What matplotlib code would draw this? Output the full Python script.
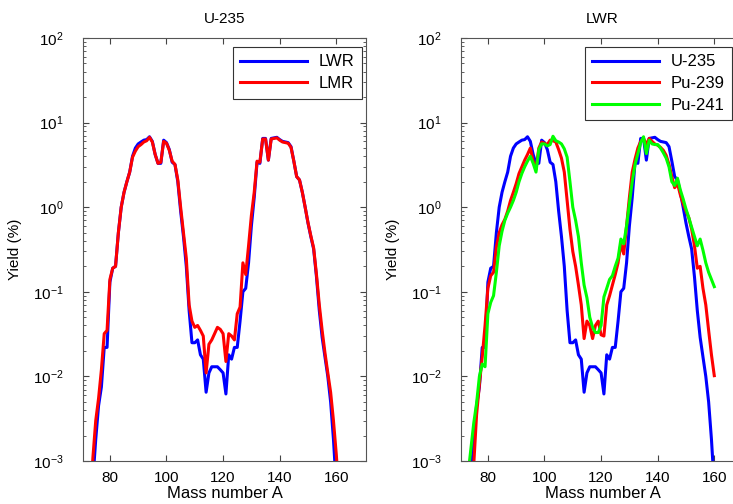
import matplotlib
matplotlib.use('Agg')
import matplotlib.pyplot as plt
import numpy as np

plt.rcParams['font.family'] = ['Liberation Sans', 'DejaVu Sans']

# mass numbers
massU = np.arange(74, 161)
massLMR = np.arange(73, 162)
massPu9 = np.arange(74, 161)
massPu1 = np.arange(73, 161)

# U-235 in LWR (yield %)
yieldU235 = [0.0006, 0.0018, 0.0045, 0.0075, 0.022, 0.022, 0.13, 0.19, 0.20, 0.5,
             1.0, 1.5, 2.0, 2.6, 4.0, 5.0, 5.6, 5.9, 6.2, 6.3,
             6.8, 6.0, 4.2, 3.3, 3.3, 6.2, 5.8, 4.8, 3.4, 3.2,
             2.0, 0.9, 0.45, 0.2, 0.06, 0.025, 0.025, 0.027, 0.018, 0.016,
             0.0065, 0.011, 0.013, 0.013, 0.013, 0.012, 0.011, 0.0062, 0.018, 0.016,
             0.022, 0.022, 0.045, 0.1, 0.11, 0.22, 0.6, 1.3, 3.4, 3.3,
             6.5, 6.5, 3.6, 6.5, 6.6, 6.7, 6.3, 6.0, 5.9, 5.8,
             5.2, 3.5, 2.3, 2.1, 1.5, 1.0, 0.65, 0.45, 0.32, 0.15,
             0.06, 0.029, 0.017, 0.01, 0.005, 0.0018, 0.0005]

# U-235 in LMR
yieldLMR = [0.0003, 0.0011, 0.003, 0.0055, 0.012, 0.032, 0.035, 0.14, 0.19, 0.2, 0.5,
            1.0, 1.5, 2.0, 2.6, 3.9, 4.6, 5.2, 5.5, 5.9, 6.1,
            6.7, 5.9, 4.2, 3.3, 3.4, 6.0, 5.7, 4.7, 3.5, 3.2,
            2.1, 1.0, 0.5, 0.25, 0.07, 0.045, 0.038, 0.04, 0.035, 0.03,
            0.011, 0.024, 0.027, 0.032, 0.038, 0.036, 0.032, 0.015, 0.032, 0.03,
            0.027, 0.055, 0.066, 0.22, 0.16, 0.35, 0.8, 1.5, 3.5, 3.4,
            6.4, 6.4, 3.6, 6.4, 6.5, 6.6, 6.2, 5.9, 5.8, 5.7,
            5.1, 3.5, 2.3, 2.1, 1.5, 1.0, 0.66, 0.46, 0.33, 0.16,
            0.07, 0.035, 0.019, 0.011, 0.0065, 0.003, 0.0012, 0.0004]

# Pu-239 in LWR
yieldPu239 = [0.0004, 0.0009, 0.0035, 0.008, 0.017, 0.04, 0.11, 0.155, 0.17, 0.34,
              0.5, 0.62, 0.72, 0.9, 1.2, 1.5, 1.9, 2.5, 3.0, 3.6,
              4.2, 5.0, 3.5, 2.8, 5.0, 5.9, 5.7, 5.5, 6.2, 6.1,
              5.9, 4.8, 3.8, 2.6, 1.2, 0.55, 0.3, 0.2, 0.12, 0.07,
              0.028, 0.045, 0.04, 0.028, 0.04, 0.045, 0.031, 0.03, 0.07, 0.09,
              0.12, 0.16, 0.22, 0.37, 0.28, 0.6, 1.3, 2.6, 3.7, 5.0,
              6.0, 6.5, 5.5, 6.5, 6.0, 5.6, 5.4, 5.1, 4.7, 4.1,
              3.2, 2.3, 1.7, 1.9, 1.4, 1.1, 0.9, 0.75, 0.55, 0.35,
              0.19, 0.2, 0.11, 0.07, 0.035, 0.018, 0.0102]

# Pu-241 in LWR
yieldPu241 = [0.0007, 0.0014, 0.0028, 0.0048, 0.01, 0.014, 0.013, 0.055, 0.075, 0.09, 0.17,
              0.35, 0.52, 0.7, 0.85, 1.0, 1.2, 1.5, 2.0, 2.5, 3.0,
              3.5, 4.0, 3.3, 2.6, 4.8, 5.6, 5.6, 5.3, 5.5, 6.9,
              6.1, 5.9, 5.6, 4.9, 3.9, 2.0, 1.0, 0.7, 0.45, 0.22,
              0.12, 0.085, 0.05, 0.038, 0.033, 0.033, 0.04, 0.087, 0.11, 0.14,
              0.155, 0.2, 0.25, 0.42, 0.37, 0.6, 1.1, 2.0, 3.2, 4.3,
              5.8, 6.8, 4.3, 6.2, 5.6, 5.5, 5.5, 5.0, 4.4, 3.8,
              3.0, 2.0, 1.8, 2.2, 1.6, 1.25, 0.95, 0.75, 0.58, 0.45,
              0.35, 0.42, 0.31, 0.22, 0.17, 0.14, 0.115]

xticks = [80, 100, 120, 140, 160]

fig = plt.figure(figsize=(7.33, 5.04), dpi=100)
axL = fig.add_axes([83/733, 43/504, 283/733, 423/504])
axR = fig.add_axes([461/733, 43/504, 283/733, 423/504])

axL.plot(massU, yieldU235, color=(0, 0, 1), lw=2.2, label='LWR')
axL.plot(massLMR, yieldLMR, color=(1, 0, 0), lw=2.2, label='LMR')
axL.set_title('U-235', fontsize=11, pad=11)

axR.plot(massU, yieldU235, color=(0, 0, 1), lw=2.2, label='U-235')
axR.plot(massPu9, yieldPu239, color=(1, 0, 0), lw=2.2, label='Pu-239')
axR.plot(massPu1, yieldPu241, color=(0, 1, 0), lw=2.2, label='Pu-241')
axR.set_title('LWR', fontsize=11, pad=11)

legend_corner = {axL: (362/733, 1 - 47/504), axR: (732/733, 1 - 47/504)}

for ax in [axL, axR]:
    ax.set_yscale('log')
    ax.set_xlim(70.5, 170.5)
    ax.set_ylim(1e-3, 1e2)
    ax.set_xticks(xticks)
    ax.tick_params(which='both', direction='in', top=True, right=True,
                   labelsize=11, colors='#444444', labelcolor='black')
    ax.tick_params(which='major', length=4)
    ax.tick_params(which='minor', length=2)
    ax.tick_params(axis='x', pad=7)
    ax.tick_params(axis='y', pad=14)
    for s in ax.spines.values():
        s.set_color('#555555')
        s.set_linewidth(0.8)
    ax.set_xlabel('Mass number A', fontsize=12, labelpad=1)
    ax.set_ylabel('Yield (%)', fontsize=11, labelpad=8)
    leg = ax.legend(loc='upper right', fontsize=12, handlelength=4.0,
                    fancybox=False, framealpha=1, borderaxespad=0,
                    bbox_to_anchor=legend_corner[ax], bbox_transform=fig.transFigure,
                    labelspacing=0.4, borderpad=0.45, handletextpad=0.7)
    leg.get_frame().set_edgecolor('#333333')
    leg.get_frame().set_linewidth(0.8)

fig.savefig('out.png', dpi=100)
